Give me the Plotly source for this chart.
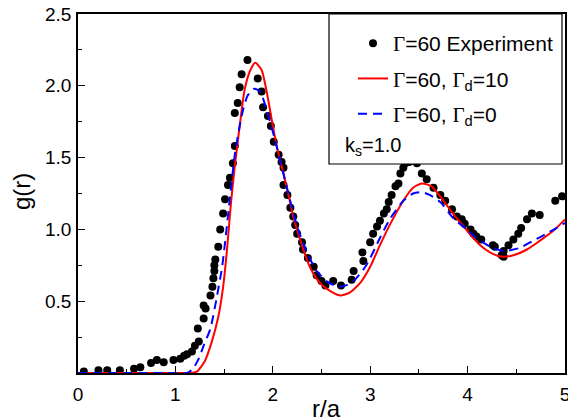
import plotly.graph_objects as go

# Experimental data (Gamma=60)
exp_r = [0.06, 0.21, 0.30, 0.43, 0.575, 0.64, 0.75, 0.81, 0.88, 0.98, 1.05, 1.09, 1.12, 1.17,
         1.20, 1.24, 1.23, 1.29, 1.31, 1.29, 1.36, 1.38, 1.39, 1.40, 1.40, 1.41, 1.44, 1.46,
         1.49, 1.51, 1.54, 1.56, 1.59, 1.61, 1.61, 1.64, 1.66, 1.68, 1.74, 1.845, 1.885, 1.90,
         1.95, 1.98, 2.01, 2.06, 2.09, 2.11, 2.11, 2.15, 2.18, 2.21, 2.23, 2.25, 2.30, 2.31,
         2.36, 2.42, 2.45, 2.50, 2.54, 2.62, 2.70, 2.81, 2.83, 2.92, 2.93, 3.00, 3.03, 3.07,
         3.10, 3.14, 3.17, 3.19, 3.22, 3.26, 3.29, 3.31, 3.34, 3.36, 3.40, 3.44, 3.48, 3.53,
         3.58, 3.65, 3.72, 3.77, 3.84, 3.89, 3.94, 3.97, 4.03, 4.06, 4.09, 4.14, 4.26, 4.28,
         4.35, 4.37, 4.37, 4.42, 4.47, 4.52, 4.55, 4.61, 4.66, 4.74, 4.90, 4.97]
exp_g = [0.01, 0.02, 0.02, 0.02, 0.03, 0.04, 0.07, 0.09, 0.075, 0.09, 0.10, 0.12, 0.13, 0.15,
         0.19, 0.22, 0.31, 0.38, 0.45, 0.47, 0.54, 0.60, 0.66, 0.71, 0.75, 0.79, 0.88, 1.00,
         1.11, 1.21, 1.31, 1.36, 1.46, 1.58, 1.81, 1.88, 1.99, 2.08, 2.18, 2.05, 1.96, 1.85,
         1.79, 1.72, 1.61, 1.52, 1.47, 1.43, 1.31, 1.24, 1.15, 1.09, 1.03, 0.97, 0.91, 0.86,
         0.80, 0.74, 0.68, 0.64, 0.61, 0.64, 0.61, 0.65, 0.71, 0.84, 0.78, 0.91, 0.97, 1.02,
         1.06, 1.11, 1.14, 1.19, 1.24, 1.30, 1.32, 1.39, 1.43, 1.46, 1.47, 1.48, 1.46, 1.39,
         1.35, 1.29, 1.24, 1.20, 1.14, 1.09, 1.07, 1.04, 1.00, 0.97, 0.95, 0.93, 0.89, 0.88,
         0.82, 0.81, 0.85, 0.89, 0.93, 0.97, 1.01, 1.07, 1.11, 1.10, 1.20, 1.23]

# Model, Gamma_d = 10 (red solid)
red_r = [0.0, 1.0, 1.15, 1.22, 1.30, 1.37, 1.44, 1.49, 1.53, 1.57, 1.61, 1.66, 1.71, 1.77,
         1.82, 1.885, 1.94, 1.99, 2.04, 2.11, 2.18, 2.21, 2.28, 2.38, 2.48, 2.59, 2.69, 2.79,
         2.90, 3.00, 3.10, 3.20, 3.34, 3.44, 3.53, 3.63, 3.73, 3.85, 3.96, 4.06, 4.13, 4.23,
         4.35, 4.47, 4.61, 4.74, 4.88, 5.0]
red_g = [0.0, 0.0, 0.0, 0.01, 0.08, 0.21, 0.39, 0.60, 0.86, 1.18, 1.44, 1.72, 1.97, 2.11,
         2.16, 2.11, 1.95, 1.76, 1.58, 1.39, 1.18, 1.09, 0.93, 0.74, 0.63, 0.57, 0.54, 0.56,
         0.63, 0.74, 0.89, 1.03, 1.20, 1.29, 1.32, 1.30, 1.22, 1.11, 1.02, 0.94, 0.89, 0.84,
         0.81, 0.82, 0.86, 0.92, 0.99, 1.07]

# Model, Gamma_d = 0 (blue dashed)
blue_r = [0.0, 1.0, 1.12, 1.18, 1.24, 1.29, 1.36, 1.42, 1.48, 1.52, 1.56, 1.61, 1.68, 1.74,
          1.81, 1.87, 1.95, 2.02, 2.09, 2.16, 2.25, 2.35, 2.45, 2.55, 2.67, 2.75, 2.83, 2.96,
          3.10, 3.20, 3.34, 3.44, 3.53, 3.61, 3.72, 3.85, 3.99, 4.09, 4.26, 4.38, 4.53, 4.67,
          4.81, 5.0]
blue_g = [0.0, 0.0, 0.0, 0.03, 0.10, 0.19, 0.31, 0.51, 0.74, 0.97, 1.22, 1.52, 1.79, 1.93,
          1.98, 1.96, 1.80, 1.63, 1.44, 1.25, 1.02, 0.84, 0.71, 0.64, 0.60, 0.61, 0.64, 0.75,
          0.94, 1.07, 1.20, 1.25, 1.26, 1.24, 1.19, 1.08, 1.00, 0.94, 0.87, 0.85, 0.87, 0.92,
          0.97, 1.045]

x_ticks = [0, 1, 2, 3, 4, 5]
y_ticks = [0.5, 1.0, 1.5, 2.0, 2.5]

FONT = "Liberation Sans, Arial, sans-serif"
G = '<span style="font-family:Liberation Serif, Times New Roman, serif">Γ</span>'

L, R, T, B = 78, 565, 14, 373
W, H = R - L, B - T


def px(xp):
    return (xp - L) / W


def py(yp):
    return (B - yp) / H


fig = go.Figure()
fig.add_trace(go.Scatter(x=exp_r, y=exp_g, mode="markers",
                         marker=dict(color="black", size=8),
                         name=G + "=60 Experiment"))
fig.add_trace(go.Scatter(x=red_r, y=red_g, mode="lines",
                         line=dict(color="#ff0000", width=2, shape="spline", smoothing=0.6),
                         name=G + "=60, " + G + "<sub>d</sub>=10"))
fig.add_trace(go.Scatter(x=blue_r, y=blue_g, mode="lines",
                         line=dict(color="#0000ff", width=2, dash="9px,6px", shape="spline", smoothing=0.6),
                         name=G + "=60, " + G + "<sub>d</sub>=0"))

fig.add_shape(type="rect", xref="paper", yref="paper",
              x0=px(329), x1=px(562), y0=py(164), y1=1.0,
              fillcolor="white", line=dict(color="black", width=1.2), layer="above")

fig.add_annotation(text="k<sub>s</sub>=1.0", xref="paper", yref="paper",
                   x=px(343), y=py(146), xanchor="left", yanchor="middle",
                   showarrow=False, font=dict(family=FONT, size=20, color="black"))

fig.add_annotation(text="r/a", xref="paper", yref="paper",
                   x=px(326), y=py(408), xanchor="center", yanchor="middle",
                   showarrow=False, font=dict(family=FONT, size=24, color="black"))
fig.add_annotation(text="g(r)", xref="paper", yref="paper", textangle=-90,
                   x=px(22), y=py(192), xanchor="center", yanchor="middle",
                   showarrow=False, font=dict(family=FONT, size=24, color="black"))

axis_common = dict(showline=True, linecolor="black", linewidth=1.5, mirror=True,
                   ticks="inside", ticklen=7, tickwidth=1.2, tickcolor="black",
                   showgrid=False, zeroline=False, automargin=False,
                   ticklabeloverflow="allow",
                   tickfont=dict(family=FONT, size=19, color="black"))

fig.update_xaxes(range=[0, 5], tickvals=x_ticks, ticktext=[str(v) for v in x_ticks],
                 minor=dict(dtick=0.5, ticks="inside", ticklen=4, tickcolor="black", tickwidth=1.2),
                 ticklabelstandoff=3,
                 **axis_common)
fig.update_yaxes(range=[0, 2.5], tickvals=y_ticks, ticktext=["%.1f" % v for v in y_ticks],
                 minor=dict(dtick=0.25, ticks="inside", ticklen=4, tickcolor="black", tickwidth=1.2),
                 ticklabelstandoff=1,
                 **axis_common)

fig.update_layout(
    width=568, height=418,
    margin=dict(l=L, r=568 - R, t=T, b=418 - B, autoexpand=False),
    plot_bgcolor="white", paper_bgcolor="white",
    font=dict(family=FONT, size=21, color="black"),
    legend=dict(x=px(353), y=py(23), xanchor="left", yanchor="top",
                bgcolor="rgba(0,0,0,0)", borderwidth=0,
                tracegroupgap=5, font=dict(family=FONT, size=21, color="black")),
    showlegend=True,
)
for i, tr in enumerate(fig.data):
    tr.legendgroup = "g%d" % i

fig.write_html("out.html", config={"displayModeBar": False},
               post_script="document.body.style.margin='0';document.body.style.padding='0';")
